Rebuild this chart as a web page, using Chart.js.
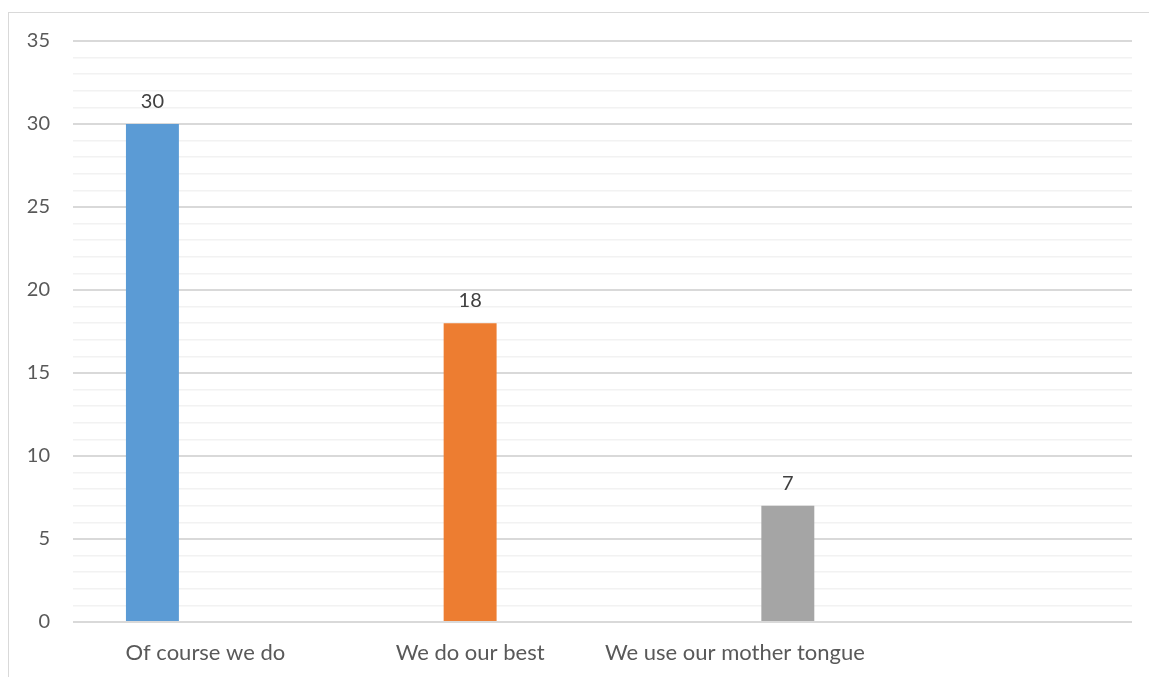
<!DOCTYPE html>
<html>
<head>
<meta charset="utf-8">
<script src="https://cdn.jsdelivr.net/npm/chart.js@4/dist/chart.umd.min.js"></script>
<style>
  html, body { margin: 0; padding: 0; background: #fff; }
  #wrap { position: relative; width: 1149px; height: 677px; overflow: hidden; }
  #frame { position: absolute; left: 8px; top: 12px; width: 1200px; height: 700px; border: 1px solid #D9D9D9; box-sizing: border-box; }
  canvas { position: absolute; left: 0; top: 0; }
</style>
</head>
<body>
<div id="wrap">
  <div id="frame"></div>
  <canvas id="c" width="1149" height="677"></canvas>
</div>
<script>
const categories = ["Of course we do", "We do our best", "We use our mother tongue", ""];
const seriesNames = ["Of course we do", "We do our best", "We use our mother tongue"];
const seriesA = [30, null, null, null];
const seriesB = [null, 18, null, null];
const seriesC = [null, null, 7, null];
const seriesColors = ["#5B9BD5", "#ED7D31", "#A5A5A5"];
const yTickLabels = [0, 5, 10, 15, 20, 25, 30, 35];

const FONT = "Lato, 'Open Sans', sans-serif";
const FS = 20;
const FSX = 22;

const dataLabels = {
  id: 'dataLabels',
  afterDatasetsDraw(chart) {
    const ctx = chart.ctx;
    ctx.save();
    ctx.font = FS + 'px ' + FONT;
    ctx.fillStyle = '#404040';
    ctx.textAlign = 'center';
    ctx.textBaseline = 'alphabetic';
    chart.data.datasets.forEach((ds, i) => {
      const meta = chart.getDatasetMeta(i);
      meta.data.forEach((bar, j) => {
        const v = ds.data[j];
        if (v === null || v === undefined) return;
        ctx.fillText(String(v), bar.x, bar.y - 16);
      });
    });
    ctx.restore();
  }
};

new Chart(document.getElementById('c'), {
  type: 'bar',
  data: {
    labels: categories,
    datasets: [
      { label: seriesNames[0], data: seriesA, backgroundColor: seriesColors[0] },
      { label: seriesNames[1], data: seriesB, backgroundColor: seriesColors[1] },
      { label: seriesNames[2], data: seriesC, backgroundColor: seriesColors[2] }
    ]
  },
  options: {
    responsive: false,
    animation: false,
    devicePixelRatio: 1,
    layout: { padding: { left: 0, right: 17, top: 41, bottom: 0 } },
    datasets: { bar: { categoryPercentage: 0.6, barPercentage: 1.0 } },
    plugins: { legend: { display: false }, tooltip: { enabled: false } },
    scales: {
      x: {
        grid: { display: false, drawTicks: false },
        border: { display: false },
        ticks: { color: '#595959', font: { family: FONT, size: FSX }, padding: 18, maxRotation: 0, autoSkip: false },
        afterFit(scale) { scale.height = 55; }
      },
      y: {
        min: 0, max: 35,
        grid: {
          drawTicks: false,
          tickLength: 0,
          color: (c) => (c.tick && c.tick.value % 5 === 0) ? '#D9D9D9' : '#F2F2F2',
          lineWidth: (c) => (c.tick && c.tick.value % 5 === 0) ? 2 : 1.5
        },
        border: { display: false },
        ticks: {
          stepSize: 1,
          autoSkip: false,
          maxTicksLimit: 100,
          color: '#595959',
          font: { family: FONT, size: FS },
          padding: 23,
          callback: (v) => yTickLabels.includes(v) ? String(v) : ''
        },
        afterFit(scale) { scale.width = 73; }
      }
    }
  },
  plugins: [dataLabels]
});
</script>
</body>
</html>
